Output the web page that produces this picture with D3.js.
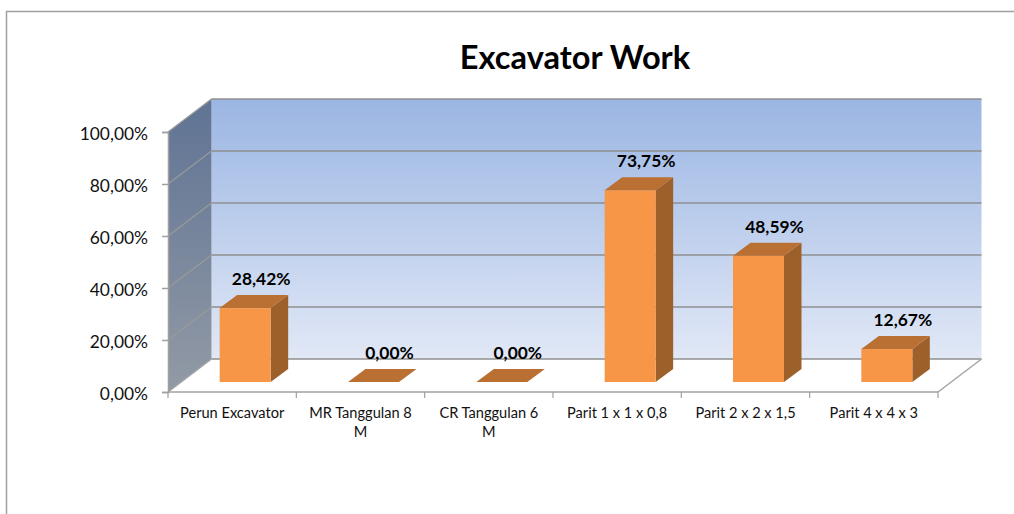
<!DOCTYPE html>
<html><head><meta charset="utf-8">
<script src="https://cdn.jsdelivr.net/npm/d3@7"></script>
<style>html,body{margin:0;padding:0;background:#fff}svg{display:block}text{font-family:Lato,"Open Sans",sans-serif;fill:#111}</style>
</head><body><script>
const categories = ["Perun Excavator","MR Tanggulan 8 M","CR Tanggulan 6 M","Parit 1 x 1 x 0,8","Parit 2 x 2 x 1,5","Parit 4 x 4 x 3"];
const values = [28.42,0,0,73.75,48.59,12.67];
const yTicks = [0,20,40,60,80,100];
const title = "Excavator Work";
const fmt = v => v.toFixed(2).replace(".",",")+"%";

const W=1014,H=514;
const svg=d3.select("body").append("svg").attr("width",W).attr("height",H);
const defs=svg.append("defs");
function grad(id,a,b){const g=defs.append("linearGradient").attr("id",id).attr("x1",0).attr("y1",0).attr("x2",0).attr("y2",1);
 g.append("stop").attr("offset",0).attr("stop-color",a);g.append("stop").attr("offset",1).attr("stop-color",b);}
grad("back","#9bb6e3","#e1e8f6");grad("side","#5f7394","#929aa5");

// chart frame
svg.append("path").attr("d",`M6.5,${H}V11.5H${W}`).attr("fill","none").attr("stroke","#a0a0a0").attr("stroke-width",1.5);

const x=d3.scaleBand().domain(categories).range([168,938]);
const y=d3.scaleLinear().domain([0,100]).range([392,132]);
const DX=43.5,DY=-33;              // depth of the floor
const [x0,x1]=x.range(), yb=y(0), yt=y(100);
const grid="#8f8f8f";

// walls
const P=pts=>"M"+pts.map(p=>p.join(",")).join("L")+"Z";
svg.append("path").attr("d",P([[x0+DX,yt+DY],[x1+DX,yt+DY],[x1+DX,yb+DY],[x0+DX,yb+DY]])).attr("fill","url(#back)");
svg.append("path").attr("d",P([[x0,yt],[x0+DX,yt+DY],[x0+DX,yb+DY],[x0,yb]])).attr("fill","url(#side)");

// gridlines
yTicks.forEach(t=>{
 svg.append("path").attr("d",`M${x0},${y(t)}L${x0+DX},${y(t)+DY}`).attr("stroke",t===0?"#a5a5a5":"#9a9a98").attr("stroke-width",t===0?1.5:1.2).attr("fill","none");
 svg.append("path").attr("d",`M${x0+DX},${y(t)+DY}H${x1+DX}`).attr("stroke",grid).attr("stroke-width",1.6).attr("fill","none");
});
svg.append("path").attr("d",`M${x1+DX},${yb+DY}L${x1},${yb}`).attr("stroke","#a5a5a5").attr("stroke-width",1.5);

// axes
const axisCol="#a0a0a0";
const ya=svg.append("g").attr("transform",`translate(${x0},0)`).call(d3.axisLeft(y).tickValues(yTicks).tickSize(6).tickFormat(fmt));
ya.select(".domain").attr("stroke",axisCol).attr("stroke-width",1.5);
ya.selectAll("line").attr("stroke",axisCol).attr("stroke-width",1.5);
ya.selectAll("text").attr("font-size",17.4).attr("x",-20).attr("dy","0.42em").style("fill","#111");

const xa=svg.append("g").attr("transform",`translate(0,${yb})`);
xa.append("path").attr("d",`M${x0},0H${x1}`).attr("stroke",axisCol).attr("stroke-width",1.5);
[x0,...categories.map(c=>x(c)+x.bandwidth())].forEach(px=>xa.append("path").attr("d",`M${px},0v6`).attr("stroke",axisCol).attr("stroke-width",1.2));

// x labels, wrapped as in the reference
categories.forEach(c=>{
 const t=svg.append("text").attr("text-anchor","middle").attr("font-size",14.6);
 const cx=x(c)+x.bandwidth()/2;
 const m=c.match(/^(.*) (M)$/);
 const lines=m?[m[1],m[2]]:[c];
 lines.forEach((l,i)=>t.append("tspan").attr("x",cx).attr("y",418+i*19).text(l));
});

// bars
const bw=51, fx=13, fy=-10, sx=17.5, sy=-13;
const bars=svg.append("g").selectAll("g").data(categories.map((c,i)=>({c,v:values[i]}))).join("g");
bars.each(function(d){
 const g=d3.select(this);
 const l=x(d.c)+(x.bandwidth()-bw)/2+fx, r=l+bw, b=y(0)+fy, t=y(d.v)+fy;
 if(d.v>0){
  g.append("path").attr("d",P([[r,t],[r+sx,t+sy],[r+sx,b+sy],[r,b]])).attr("fill","#9d602b");
  g.append("rect").attr("x",l).attr("y",t).attr("width",bw).attr("height",b-t).attr("fill","#f79646");
 }
 g.append("path").attr("d",P([[l,t],[r,t],[r+sx,t+sy],[l+sx,t+sy]])).attr("fill","#ba6f33");
});
// value labels
bars.append("text").attr("text-anchor","middle").attr("font-size",17.4).attr("font-weight",700).style("fill","#000")
 .attr("x",d=>x(d.c)+x.bandwidth()/2+29)
 .attr("y",d=>y(d.v)-10-13-10)
 .text(d=>fmt(d.v));

svg.append("text").attr("x",575).attr("y",69).attr("text-anchor","middle").attr("font-size",32.6).attr("font-weight",700).style("fill","#000").text(title);
</script></body></html>
